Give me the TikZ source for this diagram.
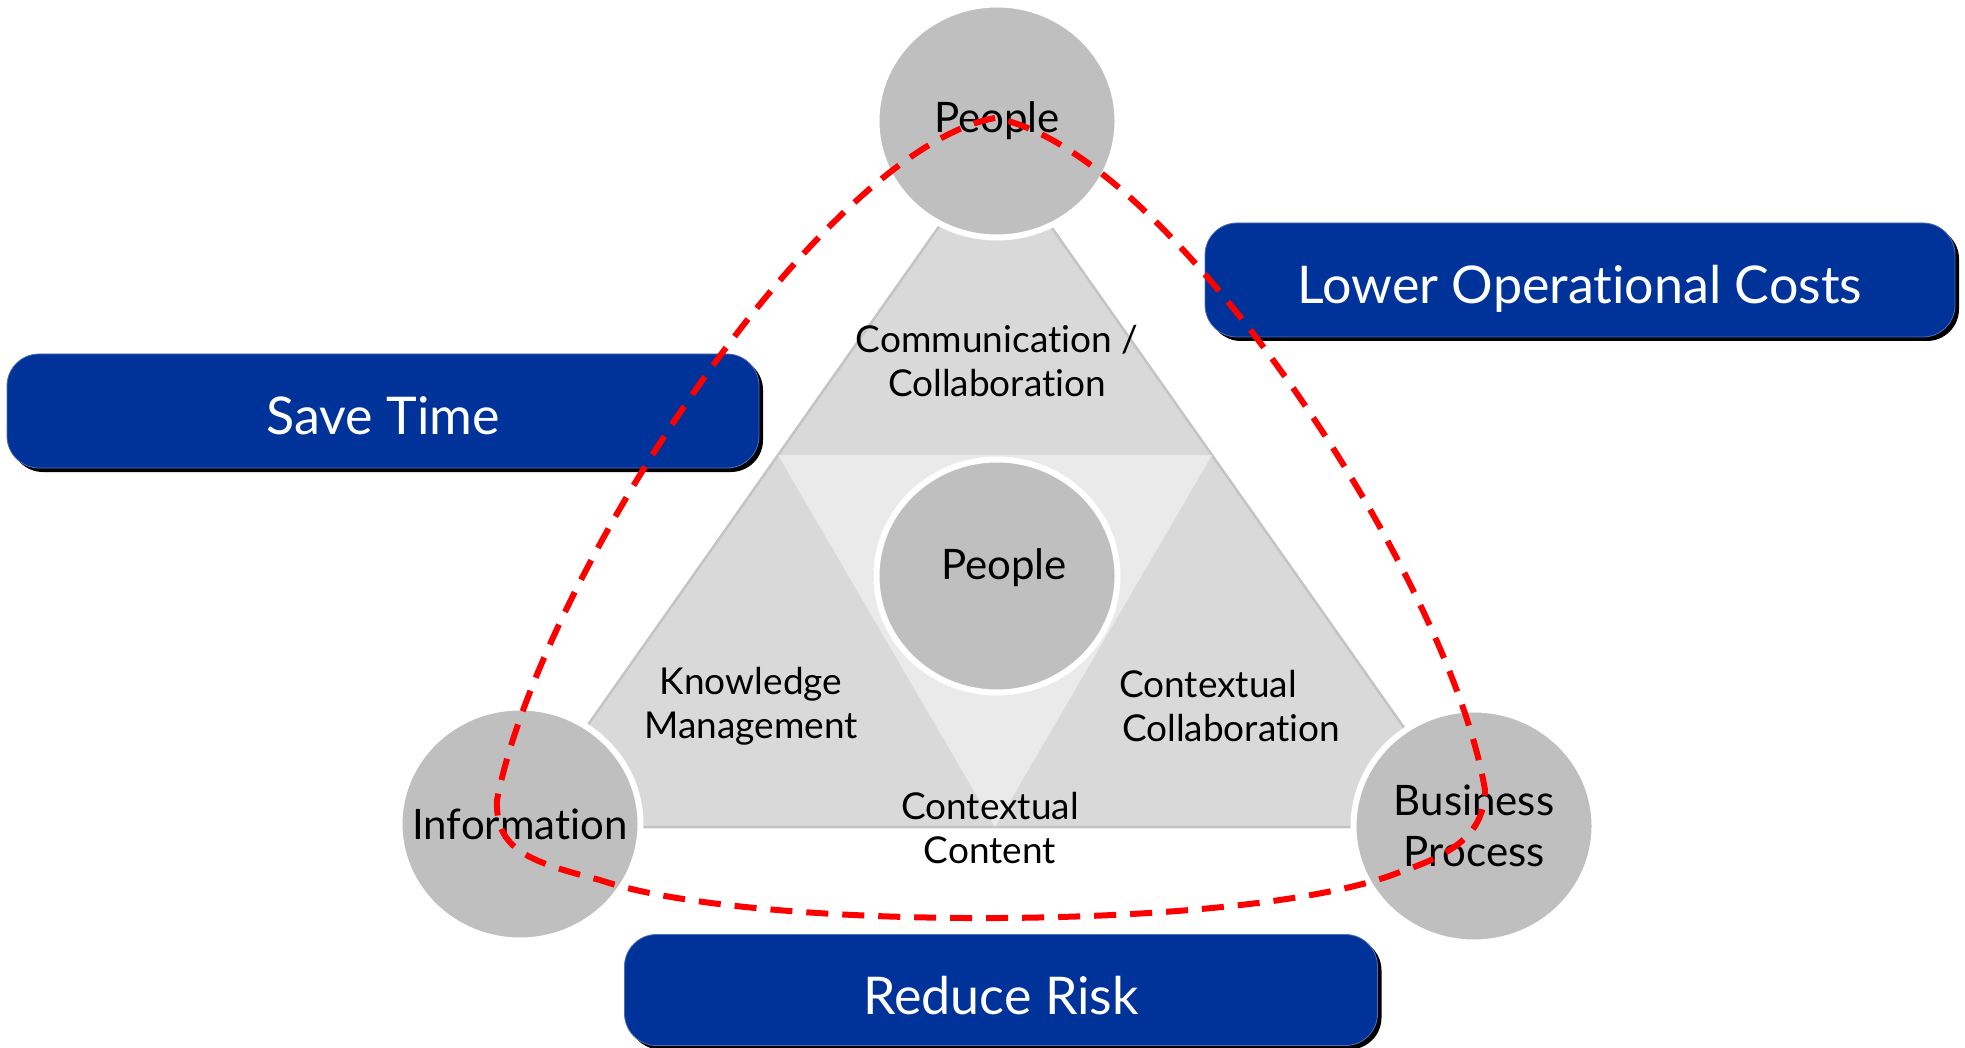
\documentclass[tikz,border=0pt]{standalone}
\usepackage{fontspec}
\setmainfont{Lato}[Ligatures=NoCommon]
\usetikzlibrary{shapes.geometric,shadows}
\definecolor{boxblue}{RGB}{0,51,153}
\definecolor{circgray}{RGB}{191,191,191}
\definecolor{trigray}{RGB}{217,217,217}
\definecolor{trilight}{RGB}{234,234,234}
\definecolor{triline}{RGB}{196,196,196}
\tikzset{
  bubble/.style={ellipse, fill=circgray, draw=white, line width=6pt,
    minimum width=241pt, minimum height=233pt, inner sep=0pt, outer sep=0pt,
    align=center, text=black, font=\fontsize{42}{51}\selectfont},
  bubtext/.style={text=black, font=\fontsize{42}{51}\selectfont, inner sep=0pt},
  goal/.style={rectangle, fill=boxblue, draw=boxblue!70!white, line width=0.8pt,
    rounded corners=32pt, text=white, font=\fontsize{52}{60}\selectfont,
    inner sep=0pt, text height=48pt, text depth=0pt,
    drop shadow={shadow xshift=4pt, shadow yshift=-4pt, fill=black, opacity=1}},
  lbl/.style={align=center, text=black, font=\fontsize{37}{44}\selectfont, inner sep=0pt},
  redline/.style={draw=red, line width=6pt, dash pattern=on 22pt off 14pt}
}
\begin{document}
\begin{tikzpicture}[x=1pt,y=-1pt]
\useasboundingbox (0,0) rectangle (1965,1048);
% triangle
\filldraw[fill=trigray, draw=triline, line width=2.5pt, line join=round]
  (516,827) -- (995,147) -- (1474,827) -- cycle;
\fill[trilight] (778,455) -- (1212,455) -- (995,827) -- cycle;
% labels in triangle
\node[lbl] (comm) at (997,361) {Communication /\\Collaboration};
\node[lbl] (km) at (751,706) {Knowledge\\Management};
\node[lbl] (cc) at (1231,706) {Contextual\hspace*{46pt}\\Collaboration};
\node[lbl] (cct) at (990,828) {Contextual\\Content};
% circles
\node[bubble] (ptop) at (997,121) {People};
\node[bubble] (pmid) at (997,576) {};
\node[bubtext] (pmidt) at (1004,568) {People};
\node[bubble] (info) at (520,824) {\makebox[0pt]{Information}};
\node[bubble] (bp) at (1474,826) {Business\\Process};
% goal boxes
\node[goal, minimum width=752pt, minimum height=114pt] (save) at (383,411) {Save Time};
\node[goal, minimum width=750pt, minimum height=114pt] (cost) at (1580,280) {Lower Operational Costs};
\node[goal, minimum width=753pt, minimum height=111pt] (risk) at (1001,990) {Reduce Risk};
% red dashed loop
\draw[redline] (995,118) .. controls (820,150) and (540,580) .. (497,800)
  .. controls (495,850) and (530,862) .. (600,880)
  .. controls (750,932) and (1250,932) .. (1400,872)
  .. controls (1460,852) and (1484,830) .. (1485,790)
  .. controls (1450,580) and (1170,150) .. (995,118) -- cycle;
\end{tikzpicture}
\end{document}
